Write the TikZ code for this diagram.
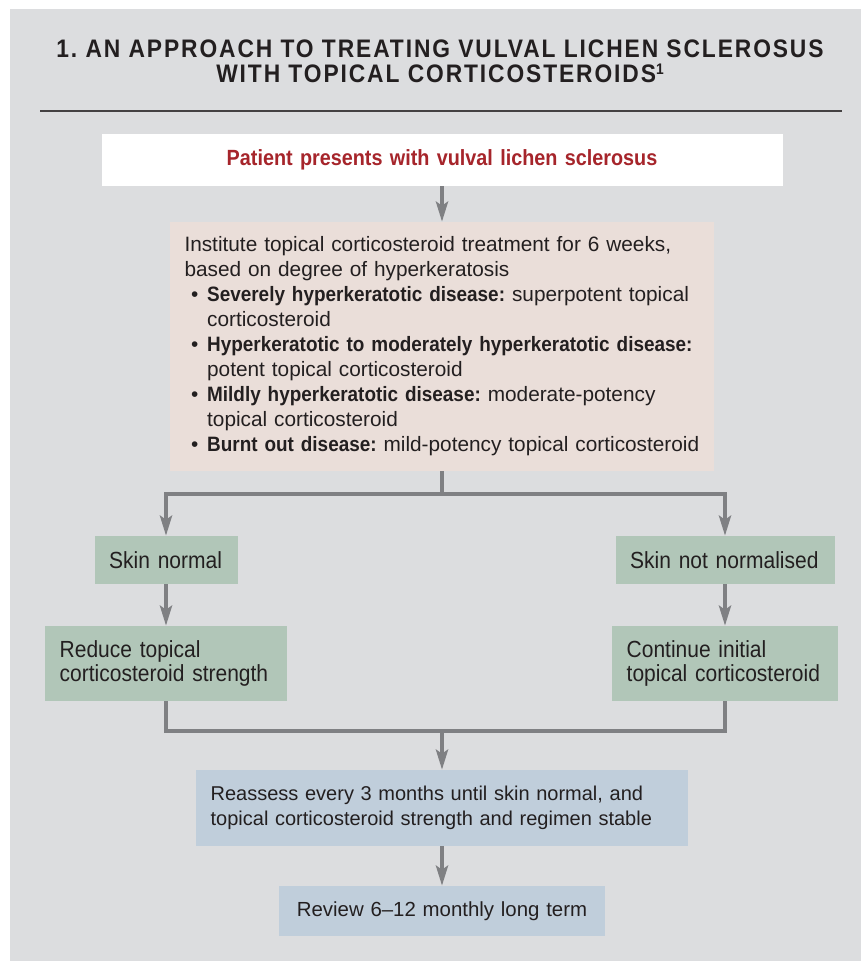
\documentclass[tikz,border=0pt]{standalone}
\usepackage{fontspec}
\setmainfont{Liberation Sans}[BoldFeatures={FakeStretch=0.91}]
\newfontfamily\narrowfont[FakeStretch=0.9]{Liberation Sans}
\newfontfamily\titlefont[FakeStretch=0.9,LetterSpace=7.5]{Liberation Sans}
\usetikzlibrary{arrows.meta}
\definecolor{fond}{HTML}{DCDDDF}
\definecolor{rose}{HTML}{EADED9}
\definecolor{vert}{HTML}{B1C6B8}
\definecolor{bleu}{HTML}{C0CEDB}
\definecolor{rouge}{HTML}{A6252B}
\definecolor{encre}{HTML}{231F20}
\definecolor{fleche}{HTML}{7F8083}
\setlength{\parindent}{0pt}
\newcommand{\puce}[2]{\par\hangindent=17pt\hangafter=1\makebox[17pt][l]{\hspace{5pt}\textbullet}\textbf{#1} #2}

\begin{document}
\frenchspacing
\begin{tikzpicture}[x=0.75pt,y=-0.75pt]
\tikzset{boite/.style={rectangle, inner xsep=11pt, inner ysep=0pt, text=encre, align=left},
  corps/.style={font=\fontsize{15.6}{18.75}\selectfont},
  etroit/.style={font=\narrowfont\fontsize{17.5}{18}\selectfont},
  entete/.style={font=\titlefont\bfseries\fontsize{19}{19}\selectfont, text=encre, inner sep=0pt, anchor=base},
  lien/.style={draw=fleche, line width=3pt},
  fl/.style={lien, -{Stealth[length=15pt,width=9pt,inset=3pt]}}}
\useasboundingbox (0,0) rectangle (861,961);
\fill[fond] (10,9) rectangle (861,961);
\node[entete] (titre1) at (440,57) {1. AN APPROACH TO TREATING VULVAL LICHEN SCLEROSUS};
\node[entete] (titre2) at (440,82) {WITH TOPICAL CORTICOSTEROIDS\raisebox{6pt}{\fontsize{11.5}{11.5}\selectfont 1}};
\coordinate (fa) at (40,111);
\coordinate (fb) at (842,111);
\draw[encre!85, line width=1.2pt] (fa) -- (fb);
\node[boite, fill=white, align=center, text width=488.75pt, minimum height=39pt,
  text=rouge, font=\narrowfont\bfseries\fontsize{16.5}{18}\selectfont] (patient) at (442,160)
  {Patient presents with vulval lichen sclerosus};
\node[boite, corps, fill=rose, text width=386.25pt, minimum height=186.75pt] (traitement) at (442,346.5)
  {\rightskip=-60pt plus 1fil\hyphenpenalty=10000
  Institute topical corticosteroid treatment for 6 weeks,\newline based on degree of hyperkeratosis
  \puce{Severely hyperkeratotic disease:}{superpotent topical\newline corticosteroid}
  \puce{Hyperkeratotic to moderately hyperkeratotic disease:}{\newline potent topical corticosteroid}
  \puce{Mildly hyperkeratotic disease:}{moderate-potency\newline topical corticosteroid}
  \puce{Burnt out disease:}{mild-potency topical corticosteroid}\par};
\node[boite, etroit, fill=vert, text width=85.25pt, minimum height=36pt] (normal) at (166,560) {Skin normal};
\node[boite, etroit, fill=vert, text width=142.25pt, minimum height=36pt] (anormal) at (725,560) {Skin not normalised};
\node[boite, etroit, fill=vert, text width=159.5pt, minimum height=56.25pt] (reduire) at (166,663.5)
  {Reduce topical\\corticosteroid strength};
\node[boite, etroit, fill=vert, text width=147.5pt, minimum height=56.25pt] (continuer) at (725,663.5)
  {Continue initial\\topical corticosteroid};
\node[boite, fill=bleu, text width=347pt, minimum height=57pt, font=\fontsize{15}{18.75}\selectfont] (reevaluer) at (442,808)
  {Reassess every 3 months until skin normal, and\\topical corticosteroid strength and regimen stable};
\node[boite, fill=bleu, align=center, text width=222.5pt, minimum height=37.5pt, font=\fontsize{15.3}{18.75}\selectfont] (suivi) at (442,911)
  {Review 6--12 monthly long term};
\coordinate (split) at (442,494);
\coordinate (join) at (442,731);
\draw[fl] (patient) -- (traitement);
\draw[lien] (traitement) -- (split);
\draw[fl] (split) -| (normal);
\draw[fl] (split) -| (anormal);
\draw[fl] (normal) -- (reduire);
\draw[fl] (anormal) -- (continuer);
\draw[lien] (reduire) |- (join);
\draw[lien] (continuer) |- (join);
\draw[fl] (join) -- (reevaluer);
\draw[fl] (reevaluer) -- (suivi);
\end{tikzpicture}
\end{document}
